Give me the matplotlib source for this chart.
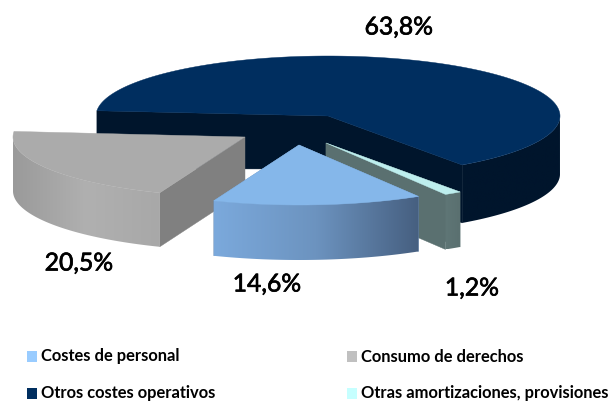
import numpy as np
import matplotlib
matplotlib.use("Agg")
import matplotlib.pyplot as plt
import matplotlib.patheffects as pe
from matplotlib.colors import LinearSegmentedColormap
from matplotlib.patches import Polygon, Rectangle

categories = ["Otros costes operativos", "Otras amortizaciones, provisiones",
              "Costes de personal", "Consumo de derechos"]
values = [63.8, 1.2, 14.6, 20.5]
value_labels = ["63,8%", "1,2%", "14,6%", "20,5%"]

start_angle = 175.0
A, B = 232.0, 60.0
centers = [(328, 116), (326, 143), (299, 145), (245, 137)]
depths = [58, 55, 55, 54]
apex_depths = [53, 55, 55, 54]
tops = ["#002E5F", "#BDEEEE", "#85B7EA", "#ABABAB"]
cuts = ["#00152C", "#5A7070", "#6F93BC", "#808080"]
wall_stops = [["#00152C", "#00152C"], ["#5F7676", "#5A7070"],
              ["#7BA9DC", "#6C93BF", "#465F80"], ["#9A9A9A", "#B0B0B0", "#A8A8A8"]]
legend_colors = ["#002E5F", "#C6FFFF", "#99CCFF", "#C0C0C0"]
label_pos = [(399, 27), (472, 288), (267, 284), (79, 263)]
legend_pos = [(27, 393), (347, 393), (27, 356.5), (347, 356.5)]

fig = plt.figure(figsize=(6.14, 4.01), dpi=100)
ax = fig.add_axes([0, 0, 1, 1])
ax.axis("off")


def pt(c, deg):
    r = np.deg2rad(deg)
    return c[0] + A * np.cos(r), c[1] - B * np.sin(r)


angles = start_angle - np.cumsum([0] + values) * 3.6
order = [0, 3, 1, 2]
for z, i in enumerate(order):
    c, d, ad = centers[i], depths[i], apex_depths[i]
    a0, a1 = angles[i], angles[i + 1]
    th = np.linspace(a0, a1, 240)
    rim = np.array([pt(c, t) for t in th])
    zb = 2 + z * 5
    # flat cut faces
    for p in (rim[0], rim[-1]):
        if i == 0 or p[1] > c[1]:
            ax.add_patch(Polygon([c, p, (p[0], p[1] + d), (c[0], c[1] + ad)],
                                 fc=cuts[i], ec=cuts[i], lw=0.3, zorder=zb))
    # curved wall, front half only, shaded left to right
    front = rim[np.sin(np.deg2rad(th)) <= 0.0]
    xmin, xmax = front[:, 0].min(), front[:, 0].max()
    wall = Polygon(np.vstack([front, (front + [0, d])[::-1]]), fc="none", ec="none",
                   transform=ax.transData)
    ax.add_patch(wall)
    cmap = LinearSegmentedColormap.from_list("w", wall_stops[i])
    im = ax.imshow(np.linspace(0, 1, 256)[None, :], cmap=cmap, vmin=0, vmax=1, aspect="auto",
                   extent=(xmin, xmax, front[:, 1].max() + d, front[:, 1].min()),
                   zorder=zb + 1, interpolation="bilinear")
    im.set_clip_path(wall)
    # top face
    ax.add_patch(Polygon(np.vstack([[c], rim]), fc=tops[i], ec=tops[i], lw=0.3, zorder=zb + 2))

ax.set_xlim(0, 614)
ax.set_ylim(401, 0)

for txt, (x, y) in zip(value_labels, label_pos):
    ax.text(x, y, txt, ha="center", va="center", fontsize=17.8, family="Lato",
            color="#000000", zorder=50,
            path_effects=[pe.withStroke(linewidth=0.5, foreground="#000000")])

for name, col, (x, y) in zip(categories, legend_colors, legend_pos):
    ax.add_patch(Rectangle((x, y - 5.5), 9.5, 11, fc=col, ec="none", zorder=50))
    ax.text(x + 14, y, name, ha="left", va="center", fontsize=11.9, family="Lato",
            weight="bold", color="#000000", zorder=50)

fig.savefig("out.png", dpi=100, facecolor="white")
